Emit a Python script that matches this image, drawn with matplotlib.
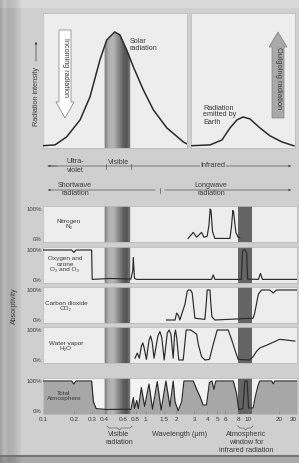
import numpy as np
import matplotlib.pyplot as plt
from matplotlib.patches import Polygon
from matplotlib.ticker import NullLocator

plt.rcParams['font.family'] = ['Liberation Sans', 'DejaVu Sans']

# ---- values ----
# top: radiation intensity (normalised to the solar peak)
solar_wl = [0.1, 0.131, 0.17, 0.23, 0.287, 0.359, 0.418, 0.5, 0.562, 0.654,
            0.76, 0.95, 1.19, 1.61, 2.33, 2.53]
solar_int = [0.01, 0.017, 0.087, 0.235, 0.435, 0.757, 0.93, 1.0, 0.974, 0.843,
             0.696, 0.496, 0.322, 0.165, 0.043, 0.026]
earth_wl = [2.83, 4.25, 5.55, 6.65, 7.78, 8.9, 10.4, 13.0, 16.3, 21.3, 27.9]
earth_int = [0.01, 0.017, 0.06, 0.165, 0.235, 0.26, 0.243, 0.165, 0.096, 0.043, 0.009]

# absorptivity panels (wavelength in micrometres, fraction absorbed)
n2_wl = [2.6, 2.92, 3.15, 3.52, 3.71, 3.99, 4.15, 4.27, 4.35, 4.5, 4.74,
         6.65, 6.9, 7.1, 7.22, 7.6, 8.0, 8.3]
n2_abs = [0.02, 0.22, 0.06, 0.22, 0.06, 0.09, 0.45, 1.0, 0.95, 0.25, 0.02,
          0.02, 0.44, 0.95, 0.9, 0.22, 0.06, 0.04]

o2_wl = [0.1, 0.19, 0.2, 0.21, 0.298, 0.302, 0.45, 0.6, 0.72, 0.75, 0.76,
         0.78, 0.82, 4.4, 4.57, 4.75, 8.6, 8.8, 9.0, 9.4, 9.7, 9.9, 12.6,
         13.2, 13.8, 30]
o2_abs = [1.0, 1.0, 0.92, 1.0, 1.0, 0.02, 0.05, 0.04, 0.03, 0.3, 0.75,
          0.05, 0.02, 0.02, 0.17, 0.02, 0.02, 0.9, 1.0, 1.0, 0.9, 0.03, 0.02,
          0.22, 0.02, 0.02]

co2_wl = [1.6, 1.94, 2.01, 2.08, 2.16, 2.42, 2.55, 2.61, 2.75, 2.85, 3.03,
          3.79, 3.92, 3.99, 4.25, 4.32, 4.44, 4.74, 11.2, 11.6, 12.6, 13.5,
          16.3, 17.6, 18.9, 30]
co2_abs = [0.0, 0.0, 0.23, 0.17, 0.0, 0.52, 0.95, 1.0, 1.0, 0.9, 0.06,
           0.02, 0.6, 1.0, 1.0, 0.6, 0.11, 0.0, 0.06, 0.23, 0.86, 1.0,
           1.0, 0.9, 1.0, 1.0]

h2o_wl = [0.79, 0.83, 0.87, 0.91, 0.94, 0.97, 1.02, 1.08, 1.12, 1.16, 1.21,
          1.32, 1.38, 1.44, 1.52, 1.63, 1.70, 1.77, 1.86, 1.92, 1.96, 2.02,
          2.11, 2.33, 2.49, 2.76, 3.15, 3.27, 3.52, 3.79, 4.2, 4.57, 5.0,
          6.4, 6.9, 7.43, 8.0, 10.4, 11.2, 12.1, 13.0, 15.1, 18.1, 20.3,
          22.8, 28.6]
h2o_abs = [0.06, 0.23, 0.06, 0.45, 0.57, 0.4, 0.02, 0.65, 0.80, 0.6, 0.06,
           0.8, 0.95, 0.75, 0.0, 0.9, 1.0, 0.85, 0.06, 0.85, 1.0, 0.7,
           0.0, 0.0, 1.0, 1.0, 0.86, 0.52, 0.11, 0.0, 0.02, 0.52, 1.0,
           1.0, 0.69, 0.34, 0.02, 0.0, 0.11, 0.29, 0.40, 0.49, 0.61, 0.69,
           0.67, 0.63]

total_wl = [0.1, 0.19, 0.2, 0.21, 0.298, 0.31, 0.33, 0.42, 0.68, 0.72, 0.76,
            0.78, 0.82, 0.85, 0.91, 0.98, 1.08, 1.17, 1.30, 1.42, 1.58, 1.73,
            1.86, 1.94, 2.08, 2.25, 2.37, 2.92, 3.15, 3.39, 3.64, 3.93, 4.2,
            4.44, 4.65, 4.85, 7.16, 7.7, 8.1, 8.9, 9.3, 9.8, 10.1, 11.2,
            11.8, 12.5, 13.0, 17.0, 17.6, 18.2, 30]
total_abs = [1.0, 1.0, 0.9, 1.0, 1.0, 0.3, 0.08, 0.05, 0.06, 0.05, 0.45,
             0.08, 0.35, 0.08, 0.78, 0.15, 0.90, 0.06, 0.98, 0.03, 1.0, 0.15,
             1.0, 0.3, 0.01, 0.3, 1.0, 1.0, 0.72, 0.49, 0.2, 0.2, 0.95,
             1.0, 0.72, 1.0, 1.0, 0.6, 0.05, 0.08, 1.0, 1.0, 0.1, 0.1,
             0.5, 0.85, 1.0, 1.0, 0.9, 1.0, 1.0]

xtick_vals = [0.1, 0.2, 0.3, 0.4, 0.6, 0.8, 1, 1.5, 2, 3, 4, 5, 6, 8, 10, 20, 30]
xtick_labels = ['0.1', '0.2', '0.3', '0.4', '0.6', '0.8', '1', '1.5', '2',
                '3', '4', '5', '6', '8', '10', '20', '30']

visible_range = (0.4, 0.7)
window_range = (8.0, 11.0)

# ---- styling ----
W, H = 299, 463
PX0, PX_DEC = 43, 102.6          # pixel of 0.1 um, pixels per decade
PAGE = '#cecece'
PANEL = '#ededed'
LINE = '#2b2b2b'
TXT = '#3a3a3a'
WINDOW = '#646464'
BAND_POS = [0, 0.15, 0.35, 0.55, 0.75, 0.9, 1.0]
BAND_GRAY = [0.47, 0.68, 0.72, 0.56, 0.38, 0.32, 0.46]


def px_wl(x):
    return 10 ** ((x - PX0) / PX_DEC - 1)


fig = plt.figure(figsize=(W / 100, H / 100), dpi=100)
fig.patch.set_facecolor(PAGE)


def px_axes(l, t, r, b, z=1):
    return fig.add_axes([l / W, 1 - b / H, (r - l) / W, (b - t) / H], zorder=z)


def clean(ax):
    ax.set_xticks([])
    ax.set_yticks([])
    ax.xaxis.set_minor_locator(NullLocator())
    for s in ax.spines.values():
        s.set_color('#bcbcbc')
        s.set_linewidth(0.6)


def visible_band(ax, n=40):
    edges = np.geomspace(visible_range[0], visible_range[1], n + 1)
    for i in range(n):
        g = np.interp((i + 0.5) / n, BAND_POS, BAND_GRAY)
        ax.axvspan(edges[i], edges[i + 1], color=str(g), lw=0.3, zorder=1)


# page background with the darker binding edge
bg = px_axes(0, 0, W, H, z=0)
prof = np.interp(np.arange(W), [0, 4, 8, 14, 22, W], [0.64, 0.73, 0.68, 0.71, 0.81, 0.81])
page = np.tile(prof, (H, 1))
page[:8] += 0.04
page[455:457] = 0.45
page[457:] *= 0.82
bg.imshow(page, cmap='gray', vmin=0, vmax=1, extent=(0, W, H, 0),
          aspect='auto', interpolation='bilinear')
bg.axis('off')

# ---- top panels: radiation intensity ----
ax_sun = px_axes(43, 13, 187, 148, z=2)
ax_sun.set_xscale('log')
ax_sun.set_xlim(0.1, px_wl(187))
ax_sun.set_ylim(-0.01, 1.165)
ax_sun.set_facecolor(PANEL)
visible_band(ax_sun)
ax_sun.fill_between(solar_wl, solar_int, 1.2, color=PANEL, lw=0, zorder=2)
ax_sun.plot(solar_wl, solar_int, color=LINE, lw=1.1, zorder=3)
clean(ax_sun)

ax_earth = px_axes(191, 13, 295, 148, z=2)
ax_earth.set_xscale('log')
ax_earth.set_xlim(px_wl(191), px_wl(295))
ax_earth.set_ylim(-0.01, 1.165)
ax_earth.set_facecolor(PANEL)
ax_earth.plot(earth_wl, earth_int, color=LINE, lw=1.1, zorder=3)
clean(ax_earth)

# ---- absorptivity panels ----
rows = [
    (206, 242, n2_wl, n2_abs, False),
    (247, 283, o2_wl, o2_abs, False),
    (287, 323, co2_wl, co2_abs, False),
    (327, 363, h2o_wl, h2o_abs, False),
    (378, 414, total_wl, total_abs, True),
]
for top, bot, wl, ab, filled in rows:
    ax = px_axes(43, top, 297, bot, z=2)
    ax.set_xscale('log')
    ax.set_xlim(0.1, 30)
    ax.set_ylim(-0.1, 1.1)
    ax.set_facecolor('#f3f3f3' if filled else PANEL)
    if filled:
        ax.fill_between(wl, -0.1, ab, color='#a7a7a7', lw=0, zorder=0.5)
    visible_band(ax)
    ax.axvspan(*window_range, color=WINDOW, lw=0, zorder=1)
    ax.plot(wl, ab, color=LINE, lw=0.85, zorder=3)
    clean(ax)
    ax.set_yticks([0, 1])
    ax.set_yticklabels(['0%', '100%'], fontsize=4.3, color=TXT)
    ax.tick_params(axis='y', length=0, pad=1)
    if filled:
        ax.set_xticks(xtick_vals)
        ax.set_xticklabels(xtick_labels)
        ax.xaxis.set_minor_locator(NullLocator())
        ax.tick_params(axis='x', direction='in', length=2, width=0.4,
                       color='#777777', labelsize=4.6, labelcolor=TXT, pad=2)
        # last label sits on the page edge: keep it inside the picture
        ax.get_xticklabels()[-1].set_horizontalalignment('right')

# ---- overlay: labels, arrows, braces ----
ov = px_axes(0, 0, W, H, z=10)
ov.set_xlim(0, W)
ov.set_ylim(H, 0)
ov.axis('off')

fs = 5.2
# incoming / outgoing arrows
ov.add_patch(Polygon([(59, 30), (71, 30), (71, 102), (74, 102), (65, 118),
                      (56, 102), (59, 102)], closed=True, fc='white',
                     ec='#7a7a7a', lw=0.5))
ov.text(65.5, 67, 'Incoming radiation', rotation=270, ha='center', va='center',
        fontsize=5.2, color=TXT)
ov.add_patch(Polygon([(272, 118), (284, 118), (284, 47), (287, 47), (278, 32),
                      (269, 47), (272, 47)], closed=True, fc='#a9a9a9',
                     ec='#808080', lw=0.5))
ov.text(278.5, 78, 'Outgoing radiation', rotation=270, ha='center', va='center',
        fontsize=5.4, color=TXT)

ov.text(36, 96, 'Radiation intensity', rotation=90, ha='center', va='center',
        fontsize=5.2, color=TXT)
ov.annotate('', xy=(36, 39), xytext=(36, 64),
            arrowprops=dict(arrowstyle='-|>', lw=0.5, color='#444444',
                            mutation_scale=3))
ov.text(130, 45, 'Solar\nradiation', ha='left', va='center', fontsize=fs,
        color=TXT, linespacing=1.0)
ov.text(203, 115, 'Radiation\nemitted by\nEarth', ha='left', va='center',
        fontsize=fs, color=TXT, linespacing=1.0)

# spectral region rows
arrow_kw = dict(arrowstyle='-|>', lw=0.5, color='#555555', mutation_scale=3)
ov.annotate('', xy=(294, 166), xytext=(45, 166), arrowprops=arrow_kw)
ov.annotate('', xy=(45, 166), xytext=(60, 166), arrowprops=arrow_kw)
for xt in (106, 131):
    ov.plot([xt, xt], [163.5, 168.5], color='#555555', lw=0.5)
ov.text(75, 166, 'Ultra-\nviolet', ha='center', va='center', fontsize=fs,
        color=TXT, linespacing=1.25)
ov.text(119, 162.5, 'Visible', ha='center', va='center', fontsize=fs, color=TXT)
ov.text(213, 165.5, 'Infrared', ha='center', va='center', fontsize=fs, color=TXT,
        bbox=dict(fc=PAGE, ec='none', pad=0.5))

ov.annotate('', xy=(45, 190), xytext=(158, 190), arrowprops=arrow_kw)
ov.annotate('', xy=(294, 190), xytext=(162, 190), arrowprops=arrow_kw)
ov.plot([160, 160], [187.5, 192.5], color='#555555', lw=0.5)
ov.text(75, 189.5, 'Shortwave\nradiation', ha='center', va='center', fontsize=fs,
        color=TXT, linespacing=1.25)
ov.text(211, 189.5, 'Longwave\nradiation', ha='center', va='center', fontsize=fs,
        color=TXT, linespacing=1.25)

# panel names
names = [
    (69, 224, 'Nitrogen\nN₂'),
    (65, 264, 'Oxygen and\nozone\nO₂ and O₃'),
    (66, 306, 'Carbon dioxide\nCO₂'),
    (66, 346, 'Water vapor\nH₂O'),
    (64, 396, 'Total\nAtmosphere'),
]
for x, y, s in names:
    ov.text(x, y, s, ha='center', va='center', fontsize=4.6, color=TXT,
            linespacing=1.05)

ov.text(14, 306, 'Absorptivity', rotation=90, ha='center', va='center',
        fontsize=5, color=TXT)


def brace(x1, x2, y):
    xm = (x1 + x2) / 2
    ov.plot([x1, x1 + 2, xm - 2, xm, xm + 2, x2 - 2, x2],
            [y - 2, y, y, y + 2, y, y, y - 2], color='#666666', lw=0.5)


brace(107, 132, 428)
brace(238, 253, 428)
ov.text(119, 438.5, 'Visible\nradiation', ha='center', va='center', fontsize=fs,
        color=TXT, linespacing=1.1)
ov.text(180, 434, 'Wavelength (μm)', ha='center', va='center', fontsize=fs,
        color=TXT)
ov.text(246, 442.5, 'Atmospheric\nwindow for\ninfrared radiation', ha='center',
        va='center', fontsize=fs, color=TXT, linespacing=1.1)

fig.savefig('out.png', dpi=100, facecolor=PAGE)
